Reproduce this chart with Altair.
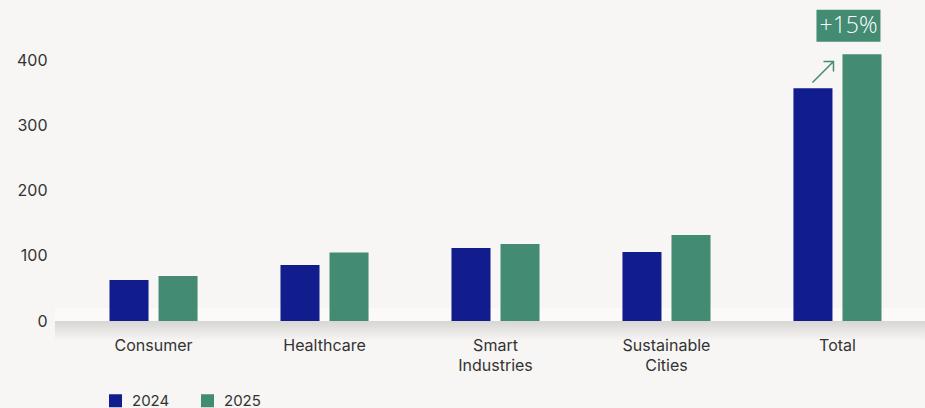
import altair as alt
import pandas as pd

# ---- data ----
categories = ["Consumer", "Healthcare", "Smart Industries", "Sustainable Cities", "Total"]
years = ["2024", "2025"]
values_2024 = [63, 86, 112, 106, 357]
values_2025 = [69, 105, 118, 132, 409]
y_ticks = [0, 100, 200, 300, 400]
growth_label = "+15%"

rows = []
for c, a, b in zip(categories, values_2024, values_2025):
    rows.append({"category": c, "year": years[0], "value": a})
    rows.append({"category": c, "year": years[1], "value": b})
df = pd.DataFrame(rows)

ann = pd.DataFrame({
    "category": [categories[-1]],
    "v2024": [values_2024[-1]],
    "v2025": [values_2025[-1]],
    "label": [growth_label],
})
base_df = pd.DataFrame({"v": [0]})

# ---- styles ----
BLUE = "#111d8c"
GREEN = "#438c73"
BG = "#f7f6f4"
TEXT = "#333333"
FONT = "Inter"

x_scale = alt.Scale(domain=categories, paddingInner=0.485, paddingOuter=0.2427)
y_scale = alt.Scale(domain=[0, 480], nice=False)

x_axis = alt.Axis(title=None, domain=False, ticks=False, grid=False, labelAngle=0,
                  labelPadding=16, labelLineHeight=20, zindex=2,
                  labelExpr="split(datum.label, ' ')",
                  labelFontSize=16, labelColor=TEXT, labelFont=FONT)
y_axis = alt.Axis(title=None, values=y_ticks, domain=False, ticks=False, grid=False,
                  labelPadding=21, labelFontSize=16, labelColor=TEXT, labelFont=FONT, zindex=2)

# baseline decoration
light_band = alt.Chart(base_df).mark_rect(color="#fbfaf9", yOffset=-13).encode(
    x=alt.value(-13), x2=alt.value(857),
    y=alt.datum(0, scale=y_scale, axis=y_axis), y2=alt.datum(0),
)
shadow = alt.Chart(base_df).mark_rect(
    color=alt.LinearGradient(
        gradient="linear",
        stops=[alt.GradientStop(color="#d8d6d3", offset=0),
               alt.GradientStop(color=BG, offset=1)],
        x1=0, x2=0, y1=0, y2=1),
    y2Offset=20,
).encode(
    x=alt.value(-13), x2=alt.value(857),
    y=alt.datum(0), y2=alt.datum(0),
)

bars = alt.Chart(df).mark_bar(opacity=1).encode(
    x=alt.X("category:N", scale=x_scale, sort=categories, axis=x_axis),
    xOffset=alt.XOffset("year:N", scale=alt.Scale(domain=years, paddingInner=0.204, paddingOuter=0)),
    y=alt.Y("value:Q", scale=y_scale, axis=y_axis),
    color=alt.Color("year:N", scale=alt.Scale(domain=years, range=[BLUE, GREEN]),
                    legend=alt.Legend(title=None, orient="none", legendX=40, legendY=385,
                                      direction="horizontal", symbolType="square",
                                      symbolSize=169, symbolStrokeWidth=0, symbolOpacity=1,
                                      labelFontSize=15, labelFont=FONT, labelColor=TEXT,
                                      labelOffset=9, columnPadding=30, padding=0)),
)

box = alt.Chart(ann).mark_point(
    shape="M-1,-0.5L1,-0.5L1,0.5L-1,0.5Z", size=4096, filled=True,
    fill=GREEN, opacity=1, strokeWidth=0, xOffset=11, yOffset=-28.5,
).encode(
    x=alt.X("category:N", scale=x_scale, sort=categories, axis=x_axis),
    y=alt.Y("v2025:Q", scale=y_scale, axis=y_axis),
)
label = alt.Chart(ann).mark_text(
    color="white", fontSize=23, fontWeight=300, font="Open Sans",
    align="center", baseline="middle", xOffset=11, yOffset=-28.5,
).encode(
    x=alt.X("category:N", scale=x_scale, sort=categories, axis=x_axis),
    y=alt.Y("v2025:Q", scale=y_scale, axis=y_axis),
    text="label:N",
)
arrow = alt.Chart(ann).mark_point(
    shape="M-1,1L1,-1M0.05,-1L1,-1L1,-0.05", size=441, filled=False,
    stroke=GREEN, strokeWidth=1.5, opacity=1, xOffset=-14.5, yOffset=-16.2,
).encode(
    x=alt.X("category:N", scale=x_scale, sort=categories, axis=x_axis),
    y=alt.Y("v2024:Q", scale=y_scale, axis=y_axis),
)

chart = alt.layer(light_band, shadow, bars, arrow, box, label).properties(
    width=855, height=313,
    autosize=alt.AutoSizeParams(type="none"),
    padding={"left": 68, "top": 8, "right": 2, "bottom": 87},
    background=BG,
).configure_view(stroke=None)

chart.save("out.html", embed_options={"renderer": "svg", "actions": False})
